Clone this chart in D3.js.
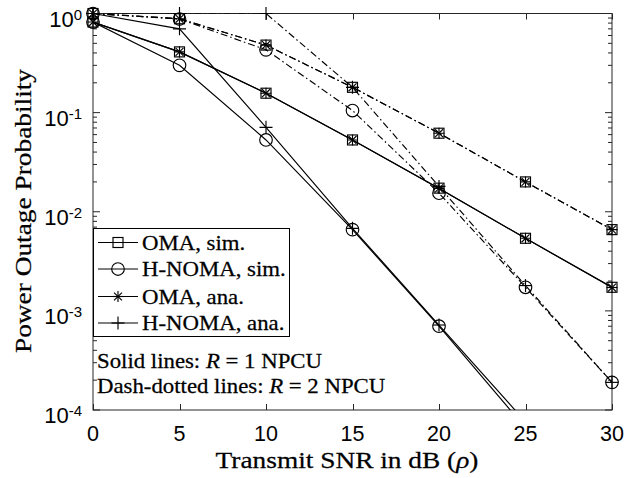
<!DOCTYPE html>
<html><head><meta charset="utf-8">
<script src="https://cdn.jsdelivr.net/npm/d3@7"></script>
<style>body{margin:0;background:#fff}svg{display:block}</style>
</head><body>
<svg id="c" width="624" height="478"></svg>
<script>
// ---- data ----
const snr = [0, 5, 10, 15, 20, 25, 30];
const omaSimR1   = [0.82, 0.41, 0.157, 0.053, 0.0173, 0.0054, 0.00173];
const omaAnaR1   = [0.82, 0.41, 0.157, 0.053, 0.0172, 0.0054, 0.00172];
const hnomaSimR1 = [0.82, 0.30, 0.053, 0.0066, 0.00070, 0.000066, 0.0000066];
const hnomaAnaR1 = [1.0, 0.70, 0.071, 0.0068, 0.00072, 0.000076, 0.0000076];
const omaSimR2   = [1.0, 0.885, 0.48, 0.18, 0.062, 0.020, 0.0066];
const omaAnaR2   = [1.0, 0.885, 0.48, 0.18, 0.062, 0.020, 0.0066];
const hnomaSimR2 = [1.0, 0.88, 0.43, 0.105, 0.0154, 0.00173, 0.00019];
const hnomaAnaR2 = [1.0, 1.0, 1.0, 0.18, 0.018, 0.0018, 0.00019];
const xTicks = [0, 5, 10, 15, 20, 25, 30];
const yTickExp = [0, -1, -2, -3, -4];
const legendLabels = ["OMA, sim.", "H-NOMA, sim.", "OMA, ana.", "H-NOMA, ana."];
const legendMarkers = ["square", "circle", "star", "plus"];

// ---- layout ----
const L = 93, R = 612, T = 13.5, B = 410;
const SX = 1.14; // horizontal stretch for serif text (approximate Computer Modern width)
const ink = "#000", axisInk = "#262626";
const LW = 1.15;
const svg = d3.select("#c");
const x = d3.scaleLinear().domain([0, 30]).range([L, R]);
const y = d3.scaleLog().domain([1e-4, 1]).range([B, T]);

const DD = "7,3,1.5,3";
const series = [
  {v: omaSimR1, m: "square", dash: null},
  {v: omaAnaR1, m: "star", dash: null},
  {v: hnomaSimR1, m: "circle", dash: null},
  {v: hnomaAnaR1, m: "plus", dash: null},
  {v: omaSimR2, m: "square", dash: DD},
  {v: omaAnaR2, m: "star", dash: DD},
  {v: hnomaSimR2, m: "circle", dash: DD},
  {v: hnomaAnaR2, m: "plus", dash: DD},
];

svg.append("defs").append("clipPath").attr("id", "clip")
  .append("rect").attr("x", L - 8).attr("y", T - 8).attr("width", R - L + 16).attr("height", B - T + 8);
svg.append("defs").append("clipPath").attr("id", "clipLine")
  .append("rect").attr("x", L).attr("y", T).attr("width", R - L).attr("height", B - T);

// ---- ticks ----
const ax = svg.append("g").attr("stroke", axisInk).attr("stroke-width", 1).attr("fill", "none");
xTicks.forEach(t => {
  const px = Math.round(x(t)) + 0.5;
  ax.append("line").attr("x1", px).attr("x2", px).attr("y1", B).attr("y2", B - 6);
  ax.append("line").attr("x1", px).attr("x2", px).attr("y1", T).attr("y2", T + 6);
});
for (let e = -4; e <= 0; e++) {
  for (let k = 1; k <= 9; k++) {
    const val = k * Math.pow(10, e);
    if (val > 1 || val < 1e-4) continue;
    const py = y(val);
    const len = k === 1 ? 7 : 4;
    ax.append("line").attr("x1", L).attr("x2", L + len).attr("y1", py).attr("y2", py);
    ax.append("line").attr("x1", R).attr("x2", R - len).attr("y1", py).attr("y2", py);
  }
}
ax.append("rect").attr("x", L).attr("y", T).attr("width", R - L).attr("height", B - T);

// ---- tick labels ----
const tl = svg.append("g").attr("font-family", "'Liberation Sans', Arial, sans-serif").attr("fill", ink);
xTicks.forEach(t => {
  tl.append("text").attr("x", x(t)).attr("y", 441).attr("text-anchor", "middle")
    .attr("font-size", 21.5).text(t);
});
yTickExp.forEach(e => {
  const py = y(Math.pow(10, e));
  const tx = tl.append("text").attr("x", 82).attr("y", py + 13).attr("text-anchor", "end").attr("font-size", 22);
  tx.append("tspan").text("10");
  tx.append("tspan").attr("font-size", 15).attr("dy", -7).text(String(e));
});

// ---- lines & markers ----
const plot = svg.append("g");
const lineGen = d3.line().x((d, i) => x(snr[i])).y(d => y(d));
function marker(g, m, cx, cy) {
  const s = g.append("g").attr("transform", `translate(${cx},${cy})`)
    .attr("stroke", ink).attr("stroke-width", LW).attr("fill", "none");
  if (m === "square") s.append("rect").attr("x", -5).attr("y", -5).attr("width", 10).attr("height", 10);
  else if (m === "circle") s.append("circle").attr("r", 6.3);
  else if (m === "plus") {
    s.append("line").attr("x1", -6.5).attr("x2", 6.5);
    s.append("line").attr("y1", -6.5).attr("y2", 6.5);
  } else if (m === "star") {
    const r = 5.5, d = r * 0.72;
    s.append("line").attr("x1", -r).attr("x2", r);
    s.append("line").attr("y1", -r).attr("y2", r);
    s.append("line").attr("x1", -d).attr("y1", -d).attr("x2", d).attr("y2", d);
    s.append("line").attr("x1", -d).attr("y1", d).attr("x2", d).attr("y2", -d);
  }
}
series.forEach(s => {
  plot.append("path").datum(s.v).attr("d", lineGen).attr("clip-path", "url(#clipLine)")
    .attr("fill", "none").attr("stroke", ink).attr("stroke-width", LW)
    .attr("stroke-dasharray", s.dash);
});
const mk = plot.append("g").attr("clip-path", "url(#clip)");
series.forEach(s => {
  s.v.forEach((v, i) => { if (v >= 1e-4) marker(mk, s.m, x(snr[i]), y(v)); });
});

// ---- serif text helper ----
function serif(g, px, py, size, anchor, rot) {
  return g.append("text").attr("transform",
      `translate(${px},${py})` + (rot ? ` rotate(${rot})` : "") + ` scale(${SX},1)`)
    .attr("font-family", "'Liberation Serif', 'Times New Roman', serif")
    .attr("font-size", size).attr("text-anchor", anchor).attr("fill", ink)
    .attr("stroke", ink).attr("stroke-width", 0.25);
}

// ---- legend ----
const lg = svg.append("g");
lg.append("rect").attr("x", 93.5).attr("y", 228.5).attr("width", 196).attr("height", 108)
  .attr("fill", "#fff").attr("stroke", ink).attr("stroke-width", 1);
const rowY = [242.5, 269, 296.5, 323];
legendLabels.forEach((lab, i) => {
  lg.append("line").attr("x1", 98).attr("x2", 138).attr("y1", rowY[i]).attr("y2", rowY[i])
    .attr("stroke", ink).attr("stroke-width", LW);
  marker(lg, legendMarkers[i], 118, rowY[i]);
  serif(lg, 142, rowY[i] + 7, 20, "start").text(lab);
});

// ---- annotations ----
const an = svg.append("g");
const a1 = serif(an, 97, 368, 20, "start");
a1.append("tspan").text("Solid lines: ");
a1.append("tspan").attr("font-style", "italic").text("R");
a1.append("tspan").text(" = 1 NPCU");
const a2 = serif(an, 97, 393, 20, "start");
a2.append("tspan").text("Dash-dotted lines: ");
a2.append("tspan").attr("font-style", "italic").text("R");
a2.append("tspan").text(" = 2 NPCU");

// ---- axis titles ----
const xt = serif(svg, 347, 468, 24, "middle");
xt.append("tspan").text("Transmit SNR in dB (");
xt.append("tspan").attr("font-style", "italic").text("ρ");
xt.append("tspan").text(")");
serif(svg, 31, 211, 24, "middle", -90).text("Power Outage Probability");
</script>
</body></html>
